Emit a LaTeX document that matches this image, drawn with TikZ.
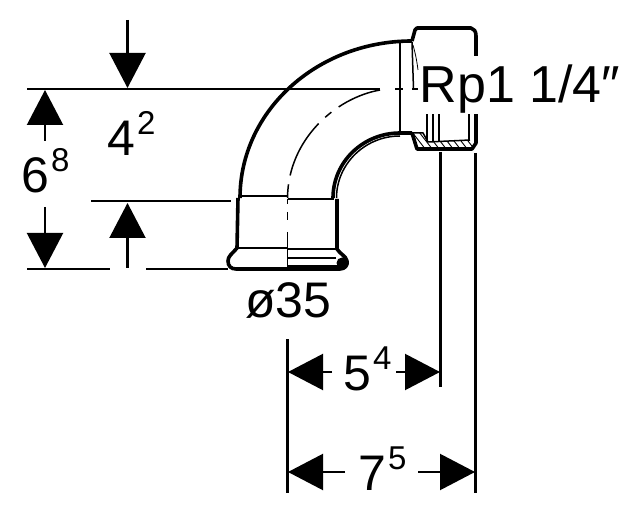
\documentclass[tikz,border=0pt]{standalone}
\usepackage{fontspec}
\setmainfont{Liberation Sans}
\usetikzlibrary{arrows.meta}
\tikzset{
  dimline/.style={line width=2.1pt},
  dimtip/.style={dimline,-{Triangle[length=35pt,width=36pt]}},
  thinline/.style={line width=1.5pt},
  wall/.style={line width=3.6pt,line join=round},
  dimtext/.style={anchor=base west,inner sep=0pt,font=\fontsize{50}{50}\selectfont},
}
\newcommand{\dimval}[2]{#1\hspace{2pt}\raisebox{21pt}{\fontsize{33}{33}\selectfont #2}}
\begin{document}
\begin{tikzpicture}[x=1pt,y=-1pt]
  \useasboundingbox (0,0) rectangle (643,513);
  % dimension end points
  \path
    (27,89) coordinate (topa)
    (380,89) coordinate (topb)
    (91,201) coordinate (mida)
    (231,201) coordinate (midb)
    (27,269) coordinate (lowa)
    (110,269) coordinate (lowb)
    (146,269) coordinate (lowc)
    (228,269) coordinate (lowd)
    (127.5,20) coordinate (downa)
    (127.5,88) coordinate (downb)
    (127.5,268) coordinate (upa)
    (127.5,203) coordinate (upb)
    (45,141) coordinate (lefta)
    (45,90) coordinate (leftb)
    (45,207) coordinate (leftc)
    (45,268) coordinate (leftd)
    (287.5,339) coordinate (wita)
    (287.5,493) coordinate (witb)
    (440.5,152) coordinate (witc)
    (440.5,387) coordinate (witd)
    (475.5,153) coordinate (wite)
    (475.5,493) coordinate (witf)
    (332,372) coordinate (fivea)
    (288,372) coordinate (fiveb)
    (396,372) coordinate (fivec)
    (440,372) coordinate (fived)
    (345,472) coordinate (sevena)
    (288,472) coordinate (sevenb)
    (418,472) coordinate (sevenc)
    (475,472) coordinate (sevend);
  % pipe bend
  \draw[wall] (240,198) .. controls (240,111) and (317,41) .. (412,41);
  \draw[wall] (333,198) .. controls (333,162) and (363,133) .. (400,133) -- (412,133);
  \draw[thinline] (336.5,198) .. controls (336.5,164) and (365,136) .. (400,136);
  \draw[thinline] (400,42) -- (400,133);
  \draw[thinline,dash pattern=on 45pt off 9pt on 8pt off 9pt on 60pt off 9pt]
    (380,90) .. controls (335,98) and (288,140) .. (287.5,198);
  \draw[thinline] (395,89) -- (403,89) (412,89) -- (418,89);
  \draw[thinline] (412,42) -- (413.5,89);
  \draw[line width=.8pt] (413,45) .. controls (416,56) and (417,62) .. (418,70);
  % socket
  \draw[wall] (238,198) -- (237,248) .. controls (232,254) and (228,256) .. (228,261)
    .. controls (228,266) and (231,269) .. (236,269) -- (340,269)
    .. controls (345,269) and (348,265) .. (347,261)
    .. controls (346,256) and (340,254) .. (337,249) -- (337,199);
  \draw[thinline] (238,196) -- (287.5,196) (287.5,199) -- (334,199);
  \draw[thinline] (237,248) -- (287.5,248) (287.5,249) -- (337,249);
  \draw[thinline] (288,258) -- (336,258);
  \draw[thinline] (287.5,199) -- (287.5,204) (287.5,212) -- (287.5,220) (287.5,232) -- (287.5,268);
  \draw[line width=2.5pt] (288,266.5) -- (340,266.5);
  \fill (342,263) circle (5.5pt);
  % flange
  \draw[wall] (412,41) -- (415,30) -- (417,28) -- (471,28) .. controls (474,29) and (476,31) .. (476,36) -- (476,57);
  \draw[wall] (412,133) -- (417,149) -- (472,149) -- (476,143) -- (476,112);
  \begin{scope}
    \clip (412,133) -- (423,133) -- (428,142) -- (470,140) -- (474,148) -- (417,149) -- cycle;
    \foreach \hatchx in {405,412,...,482}
      \draw[line width=.9pt] (\hatchx,132) -- (\hatchx+14,150);
  \end{scope}
  \draw[thinline] (412,133) -- (423,133) -- (428,142) -- (470,140);
  \foreach \threadx in {427,433,439,469}
    \draw[thinline] (\threadx,112) -- (\threadx,141);
  % size label sits over the flange
  \node[anchor=base west,inner sep=0pt,fill=white,text height=47pt,text depth=11pt,
        font=\fontsize{52}{52}\selectfont] (size) at (419.5,102.7) {Rp1 1/4″};
  % dimension lines
  \draw[dimline] (topa) -- (topb);
  \draw[dimline] (mida) -- (midb);
  \draw[dimline] (lowa) -- (lowb);
  \draw[dimline] (lowc) -- (lowd);
  \draw[dimline] (wita) -- (witb);
  \draw[dimline] (witc) -- (witd);
  \draw[dimline] (wite) -- (witf);
  \draw[dimtip] (downa) -- (downb);
  \draw[dimtip] (upa) -- (upb);
  \draw[dimtip] (lefta) -- (leftb);
  \draw[dimtip] (leftc) -- (leftd);
  \draw[dimtip] (fivea) -- (fiveb);
  \draw[dimtip] (fivec) -- (fived);
  \draw[dimtip] (sevena) -- (sevenb);
  \draw[dimtip] (sevenc) -- (sevend);
  % dimension values
  \node[dimtext] (rise) at (107,156) {\dimval{4}{2}};
  \node[dimtext] (height) at (21,193) {\dimval{6}{8}};
  \node[dimtext] (reach) at (343,390) {\dimval{5}{4}};
  \node[dimtext] (span) at (358,490) {\dimval{7}{5}};
  \node[dimtext] (bore) at (245,317) {ø35};
\end{tikzpicture}
\end{document}
